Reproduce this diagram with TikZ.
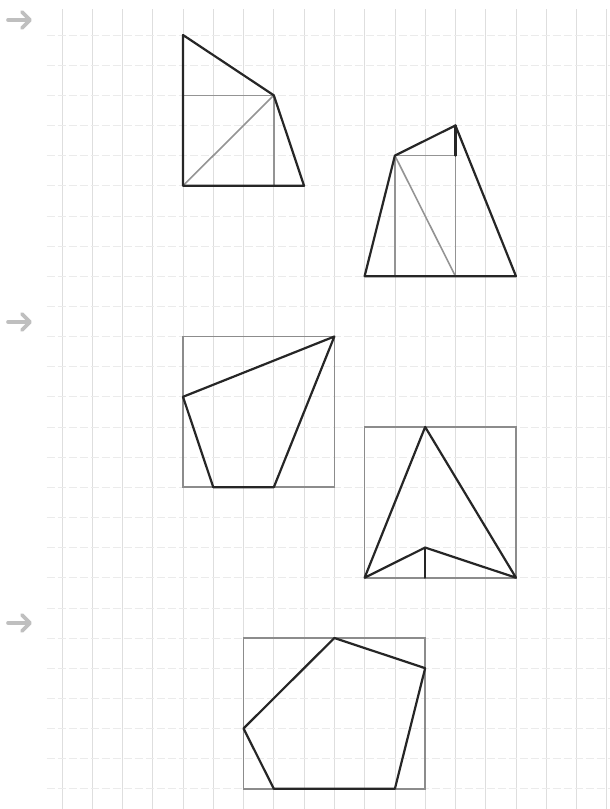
\documentclass[tikz,border=0pt]{standalone}
\begin{document}
\begin{tikzpicture}[x=1pt,y=-1pt,
  gridv/.style={draw=black!13, line width=0.7pt},
  gridh/.style={draw=black!8, line width=0.7pt, dash pattern=on 8pt off 3pt},
  outline/.style={draw=black!85, line width=2.2pt, line join=round, line cap=round},
  aux/.style={draw=black!42, line width=1.6pt, line cap=round},
  frame/.style={draw=black!45, line width=1.6pt},
  pointer/.style={draw=black!25, line width=3.6pt, line cap=round, line join=round}]
\useasboundingbox (0,0) rectangle (610,809);
\fill[white] (0,0) rectangle (610,809);
% grid
\begin{scope}[shift={(183,35)}, x=30.27pt, y=-30.15pt]
  \foreach \c in {-4,...,14} \draw[gridv] (\c,-0.85) -- (\c,25.7);
  \foreach \r in {0,...,25} \draw[gridh] (-4.5,\r) -- (14.1,\r);
\end{scope}
% pointers
\foreach \yy in {20,322,623} {
  \draw[pointer] (8,\yy) -- (29,\yy);
  \draw[pointer] (22,\yy-8) -- (30,\yy) -- (22,\yy+8);
}
\begin{scope}[shift={(183,35)}, x=30.27pt, y=-30.15pt]
  % figure 1
  \coordinate (a1) at (0,0); \coordinate (a2) at (3,2);
  \coordinate (a3) at (4,5); \coordinate (a4) at (0,5);
  \draw[aux] (0,2) -- (a2) -- (3,5);
  \draw[aux] (a4) -- (a2);
  \draw[outline] (a1) -- (a2) -- (a3) -- (a4) -- cycle;
  % figure 2
  \coordinate (b1) at (6,8); \coordinate (b2) at (7,4);
  \coordinate (b3) at (9,3); \coordinate (b4) at (11,8);
  \draw[aux] (b2) -- (7,8);
  \draw[aux] (b2) -- (9,4) -- (9,8);
  \draw[aux] (b2) -- (9,8);
  \draw[outline] (b3) -- (9,4);
  \draw[outline] (b1) -- (b2) -- (b3) -- (b4) -- cycle;
  % figure 3
  \draw[frame] (0,10) rectangle (5,15);
  \coordinate (c1) at (5,10); \coordinate (c2) at (0,12);
  \coordinate (c3) at (1,15); \coordinate (c4) at (3,15);
  \draw[outline] (c1) -- (c2) -- (c3) -- (c4) -- cycle;
  % figure 4
  \draw[frame] (6,13) rectangle (11,18);
  \coordinate (d1) at (8,13); \coordinate (d2) at (11,18);
  \coordinate (d3) at (8,17); \coordinate (d4) at (6,18);
  \draw[outline] (d1) -- (d2) -- (d3) -- (d4) -- cycle;
  \draw[outline] (d3) -- (8,18);
  % figure 5
  \draw[frame] (2,20) rectangle (8,25);
  \coordinate (e1) at (5,20); \coordinate (e2) at (8,21);
  \coordinate (e3) at (7,25); \coordinate (e4) at (3,25);
  \coordinate (e5) at (2,23);
  \draw[outline] (e1) -- (e2) -- (e3) -- (e4) -- (e5) -- cycle;
\end{scope}
\end{tikzpicture}
\end{document}
